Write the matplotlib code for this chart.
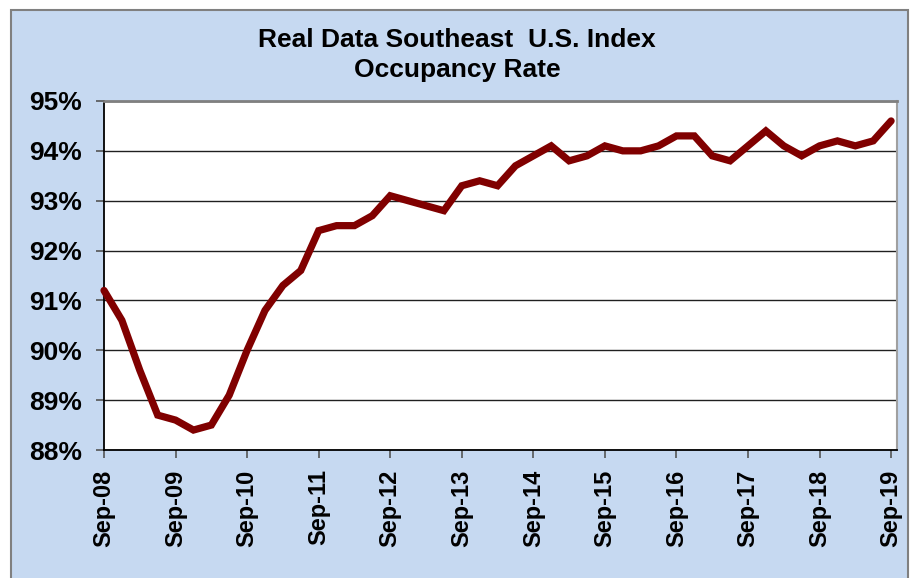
import matplotlib
matplotlib.use("Agg")
import matplotlib.pyplot as plt
from matplotlib.patches import Rectangle
from matplotlib.ticker import FuncFormatter

# quarterly occupancy rate (%), Sep-08 .. Sep-19
occupancy = [
    91.2, 90.6, 89.6, 88.7,   # Sep-08 .. Jun-09
    88.6, 88.4, 88.5, 89.1,   # Sep-09 .. Jun-10
    90.0, 90.8, 91.3, 91.6,   # Sep-10 .. Jun-11
    92.4, 92.5, 92.5, 92.7,   # Sep-11 .. Jun-12
    93.1, 93.0, 92.9, 92.8,   # Sep-12 .. Jun-13
    93.3, 93.4, 93.3, 93.7,   # Sep-13 .. Jun-14
    93.9, 94.1, 93.8, 93.9,   # Sep-14 .. Jun-15
    94.1, 94.0, 94.0, 94.1,   # Sep-15 .. Jun-16
    94.3, 94.3, 93.9, 93.8,   # Sep-16 .. Jun-17
    94.1, 94.4, 94.1, 93.9,   # Sep-17 .. Jun-18
    94.1, 94.2, 94.1, 94.2,   # Sep-18 .. Jun-19
    94.6,                     # Sep-19
]
tick_labels = ["Sep-08", "Sep-09", "Sep-10", "Sep-11", "Sep-12", "Sep-13",
               "Sep-14", "Sep-15", "Sep-16", "Sep-17", "Sep-18", "Sep-19"]
y_ticks = [88, 89, 90, 91, 92, 93, 94, 95]
title = "Real Data Southeast  U.S. Index\nOccupancy Rate"

plt.rcParams['font.family'] = ['Liberation Sans', 'DejaVu Sans']
plt.rcParams['font.weight'] = 'bold'

bg = '#C6D9F1'
fig = plt.figure(figsize=(9.14, 5.78), dpi=100)
fig.patch.set_facecolor('white')
# chart area frame
fig.patches.append(Rectangle((11 / 914, -0.05), 897 / 914, 1 - 10 / 578 + 0.05,
                             transform=fig.transFigure, facecolor=bg,
                             edgecolor='#808080', linewidth=1.5, zorder=-1))

ax = fig.add_axes([104 / 914, 1 - 450 / 578, (897 - 104) / 914, (450 - 101) / 578])
ax.set_facecolor('white')

x = list(range(len(occupancy)))
ax.plot(x, occupancy, color='#800000', linewidth=5.2, solid_joinstyle='miter',
        solid_capstyle='round', zorder=3, clip_on=False)

ax.set_xlim(0, 44.33)
ax.set_ylim(88, 95)
ax.set_yticks(y_ticks)
ax.yaxis.set_major_formatter(FuncFormatter(lambda v, p: f"{v:.0f}%"))
ax.set_xticks([4 * i for i in range(len(tick_labels))])
ax.set_xticklabels(tick_labels, rotation=90)

ax.grid(axis='y', color='#202020', linewidth=1.0, zorder=1)
ax.grid(axis='x', visible=False)
ax.tick_params(axis='y', direction='out', length=6, width=1.2, color='#555555',
               pad=10, labelsize=19)
ax.tick_params(axis='x', direction='out', length=6, width=1.2, color='#555555',
               pad=8, labelsize=17)

ax.spines['left'].set_color('black')
ax.spines['left'].set_linewidth(1.3)
ax.spines['bottom'].set_color('black')
ax.spines['bottom'].set_linewidth(1.3)
ax.spines['top'].set_color('#808080')
ax.spines['top'].set_linewidth(2.0)
ax.spines['right'].set_color('#A0A0A0')
ax.spines['right'].set_linewidth(1.5)

fig.text(0.5, 1 - 55 / 578, title, ha='center', va='center', fontsize=19,
         fontweight='bold', linespacing=1.3)

fig.savefig('out.png', dpi=100)
